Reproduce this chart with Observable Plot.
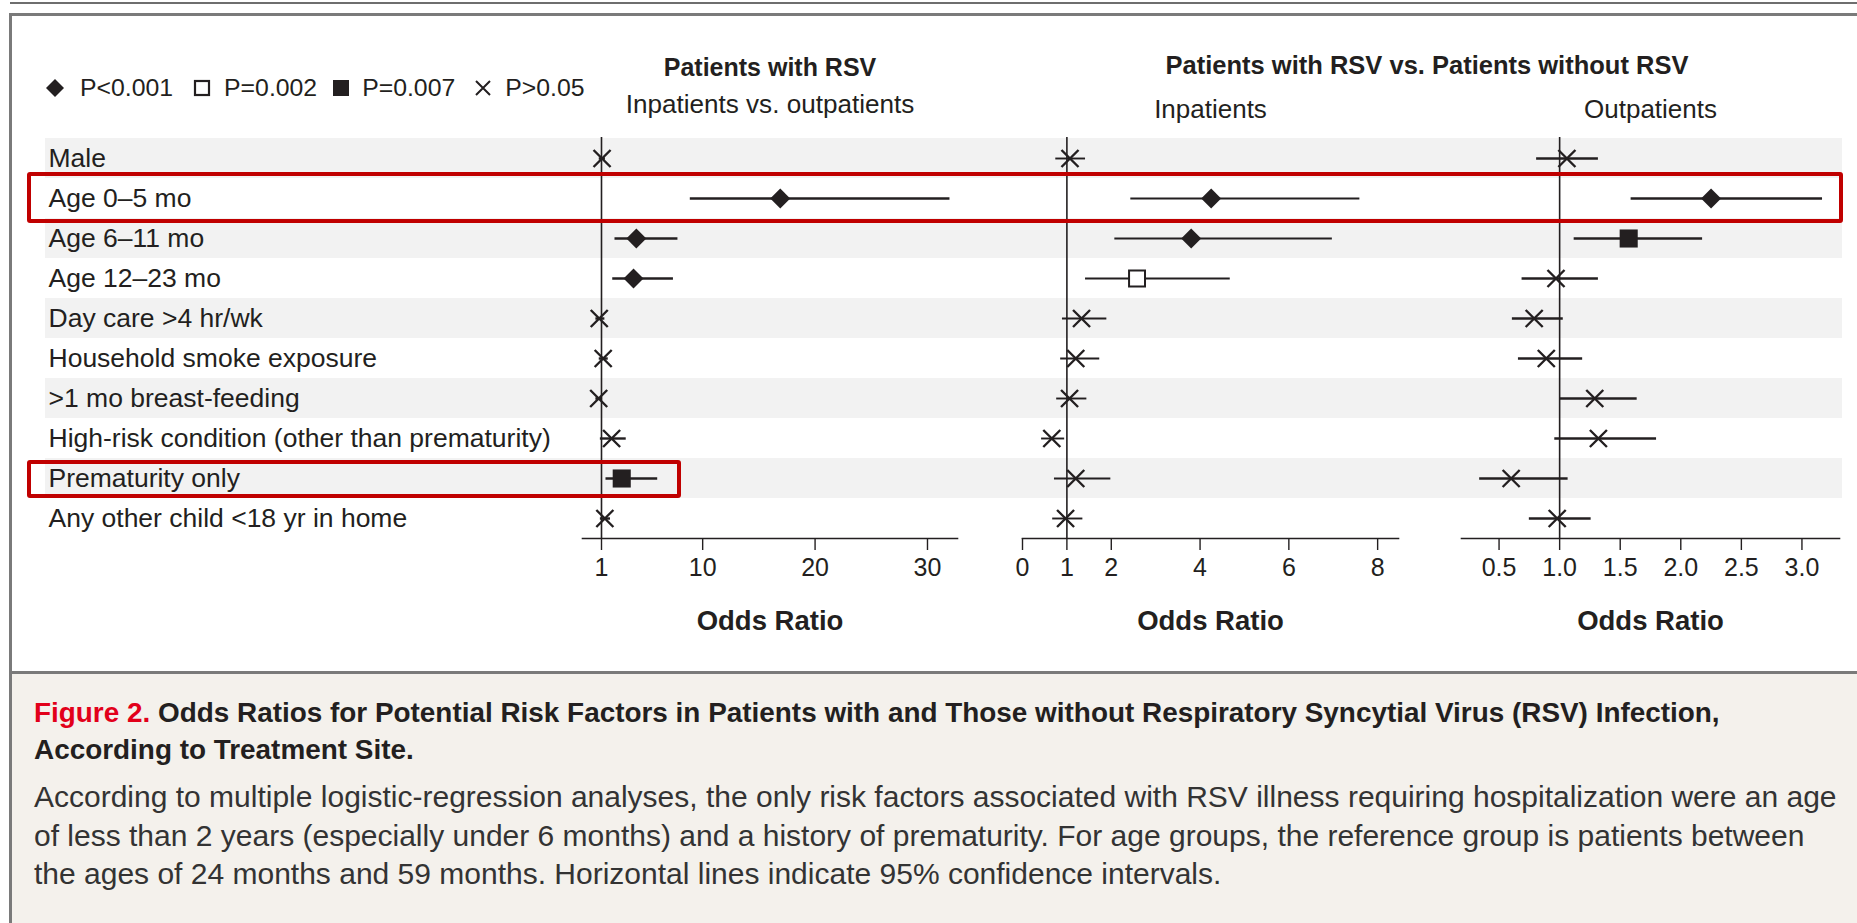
<!DOCTYPE html>
<html><head><meta charset="utf-8">
<script src="https://cdn.jsdelivr.net/npm/d3@7"></script>
<script src="https://cdn.jsdelivr.net/npm/@observablehq/plot@0.6"></script>
<style>
html,body{margin:0;padding:0;background:#fff;}
#page{position:relative;width:1857px;height:923px;overflow:hidden;font-family:"Liberation Sans",Arial,sans-serif;color:#231f20;}
.abs{position:absolute;}
.legend{position:absolute;left:45px;top:74px;height:28px;display:flex;align-items:center;font-size:24.8px;white-space:nowrap;}
.legend svg{display:block;flex:none;}
.cap{position:absolute;left:12px;top:671px;width:1845px;height:252px;background:#f4f1ec;border-top:3px solid #7a7a7a;}
.capline{position:absolute;left:22px;white-space:nowrap;}
.t{font-weight:bold;font-size:27.9px;line-height:37px;color:#231f20;}
.b{font-size:30px;line-height:38.5px;color:#333;}
.red{position:absolute;border:4.5px solid #c00000;border-radius:3px;box-sizing:border-box;}
</style></head>
<body><div id="page"></div>
<script>
// ---- data ----
const factors = ["Male","Age 0–5 mo","Age 6–11 mo","Age 12–23 mo","Day care >4 hr/wk","Household smoke exposure",">1 mo breast-feeding","High-risk condition (other than prematurity)","Prematurity only","Any other child <18 yr in home"];

// Patients with RSV: inpatients vs. outpatients
const or1  = [1.05, 16.9, 4.1, 3.85, 0.8, 1.15, 0.75, 1.9, 2.8, 1.3];
const lo1  = [0.8, 8.9, 2.2, 2.0, 0.5, 0.8, 0.5, 0.9, 1.4, 0.9];
const hi1  = [1.35, 32.0, 7.8, 7.4, 1.3, 1.6, 1.1, 3.2, 6.0, 1.8];
const sig1 = ["x","d","d","d","x","x","x","x","s","x"];

// RSV vs. no RSV: inpatients
const or2  = [1.07, 4.25, 3.8, 2.58, 1.33, 1.2, 1.06, 0.66, 1.2, 0.97];
const lo2  = [0.75, 2.44, 2.08, 1.42, 0.9, 0.86, 0.77, 0.43, 0.72, 0.68];
const hi2  = [1.42, 7.6, 6.98, 4.68, 1.9, 1.74, 1.45, 0.95, 1.99, 1.36];
const sig2 = ["x","d","d","o","x","x","x","x","x","x"];

// RSV vs. no RSV: outpatients
const or3  = [1.06, 2.25, 1.57, 0.97, 0.79, 0.89, 1.29, 1.32, 0.6, 0.98];
const lo3  = [0.81, 1.59, 1.12, 0.69, 0.61, 0.66, 1.0, 0.96, 0.34, 0.75];
const hi3  = [1.32, 3.17, 2.18, 1.32, 1.03, 1.19, 1.64, 1.80, 1.07, 1.26];
const sig3 = ["x","d","s","x","x","x","x","x","x","x"];

const ticks1 = [1, 10, 20, 30];
const ticks2 = [0, 1, 2, 4, 6, 8];
const ticks3 = [0.5, 1.0, 1.5, 2.0, 2.5, 3.0];

const legendLabels = ["P<0.001", "P=0.002", "P=0.007", "P>0.05"];
const headers = {main1: "Patients with RSV", sub1: "Inpatients vs. outpatients", main2: "Patients with RSV vs. Patients without RSV", sub2: "Inpatients", sub3: "Outpatients"};
const axisLabel = "Odds Ratio";

// ---- layout ----
const INK = "#231f20";
const W = 1857, H = 660, MT = 137, MB = 122;
const FONT = '"Liberation Sans", Arial, sans-serif';
const page = document.getElementById("page");
function add(el){ el.style.position = "absolute"; el.style.left = "0px"; el.style.top = "0px"; page.appendChild(el); return el; }
function div(cls, html, css){ const d = document.createElement("div"); if (cls) d.className = cls; d.innerHTML = html; if (css) d.style.cssText += css; page.appendChild(d); return d; }

// frame lines
div("abs", "", "left:10px;top:2px;width:1847px;height:2px;background:#6e6e6e;");
div("abs", "", "left:10px;top:13px;width:1847px;height:3px;background:#7a7a7a;");
div("abs", "", "left:9px;top:13px;width:3px;height:910px;background:#7a7a7a;");

// background: bands + row labels
add(Plot.plot({
  width: W, height: H, marginTop: MT, marginBottom: MB, marginLeft: 45, marginRight: 15,
  style: {fontFamily: FONT, color: INK, background: "transparent", overflow: "visible"},
  x: {domain: [0, 1], axis: null},
  y: {type: "band", domain: factors, padding: 0, axis: null},
  marks: [
    Plot.barX(factors.filter((d, i) => i % 2 === 0), {x1: 0, x2: 1, y: d => d, fill: "#f2f2f2"}),
    Plot.text(factors, {x: 0, y: d => d, text: d => d, textAnchor: "start", dx: 3, fontSize: 26.5, fill: INK})
  ]
}));

function panel(or, lo, hi, sig, cfg){
  const rows = factors.map((f, i) => ({factor: f, or: or[i], lo: lo[i], hi: hi[i], sig: sig[i]}));
  const marks = [
    Plot.frame({anchor: "bottom", stroke: INK, strokeWidth: 1.6}),
    Plot.axisX({ticks: cfg.ticks, tickFormat: cfg.fmt, tickSize: 12, tickPadding: 8, fontSize: 25, label: null, stroke: INK, strokeWidth: 1.4}),
    Plot.ruleX([1], {stroke: INK, strokeWidth: 1.6}),
    Plot.ruleY(rows, {y: "factor", x1: "lo", x2: "hi", stroke: INK, strokeWidth: cfg.ci}),
    Plot.dot(rows.filter(d => d.sig === "d"), {x: "or", y: "factor", symbol: "diamond2", r: 9, fill: INK, stroke: "none"}),
    Plot.dot(rows.filter(d => d.sig === "o"), {x: "or", y: "factor", symbol: "square", r: 9, fill: "white", stroke: INK, strokeWidth: 2}),
    Plot.dot(rows.filter(d => d.sig === "s"), {x: "or", y: "factor", symbol: "square", r: 10.2, fill: INK, stroke: "none"}),
    Plot.dot(rows.filter(d => d.sig === "x"), {x: "or", y: "factor", symbol: "times", r: 7.8, stroke: INK, strokeWidth: 2.4, fill: "none"}),
    Plot.text([axisLabel], {text: d => d, frameAnchor: "bottom", lineAnchor: "middle", dy: 83, fontWeight: "bold", fontSize: 27.5, fill: INK})
  ];
  for (const h of cfg.heads) marks.push(Plot.text([h.text], {text: d => d, frameAnchor: "top", lineAnchor: "middle", dy: h.dy, fontWeight: h.bold ? "bold" : "normal", fontSize: h.size, fill: INK}));
  return add(Plot.plot({
    width: W, height: H, marginTop: MT, marginBottom: MB, marginLeft: cfg.left, marginRight: W - cfg.right,
    style: {fontFamily: FONT, color: INK, background: "transparent", overflow: "visible"},
    x: {domain: cfg.domain},
    y: {type: "band", domain: factors, padding: 0, axis: null},
    marks
  }));
}

panel(or1, lo1, hi1, sig1, {left: 582, right: 957, domain: [-0.69, 32.67], ticks: ticks1, fmt: d3.format("d"), ci: 2.4,
  heads: [{text: headers.main1, dy: -70, bold: true, size: 25}, {text: headers.sub1, dy: -33, size: 26.1}]});
panel(or2, lo2, hi2, sig2, {left: 1022, right: 1398, domain: [0, 8.47], ticks: ticks2, fmt: d3.format("d"), ci: 1.9,
  heads: [{text: headers.sub2, dy: -28, size: 26}]});
panel(or3, lo3, hi3, sig3, {left: 1461, right: 1839, domain: [0.19, 3.31], ticks: ticks3, fmt: d3.format(".1f"), ci: 2.7,
  heads: [{text: headers.sub3, dy: -28, size: 26}]});

// wide header
div("abs", headers.main2, "left:1427px;top:" + (75 - 0.8465 * 25.5) + "px;transform:translateX(-50%);font-weight:bold;font-size:25.5px;line-height:25.5px;white-space:nowrap;");

// legend
const sym = {
  d: '<svg width="20" height="20" viewBox="-10 -10 20 20"><path d="M0,-9L9,0L0,9L-9,0Z" fill="' + INK + '"/></svg>',
  o: '<svg width="18" height="18" viewBox="-9 -9 18 18"><rect x="-7" y="-7" width="14" height="14" fill="white" stroke="' + INK + '" stroke-width="2.2"/></svg>',
  s: '<svg width="18" height="18" viewBox="-9 -9 18 18"><rect x="-8" y="-8" width="16" height="16" fill="' + INK + '"/></svg>',
  x: '<svg width="18" height="18" viewBox="-9 -9 18 18"><path d="M-7,-7L7,7M7,-7L-7,7" stroke="' + INK + '" stroke-width="2"/></svg>'
};
div("legend",
  sym.d + '<span style="margin-left:15px">' + legendLabels[0].replace("<", "&lt;") + '</span>' +
  '<span style="margin-left:20px"></span>' + sym.o + '<span style="margin-left:13px">' + legendLabels[1] + '</span>' +
  '<span style="margin-left:15px"></span>' + sym.s + '<span style="margin-left:12px">' + legendLabels[2] + '</span>' +
  '<span style="margin-left:19px"></span>' + sym.x + '<span style="margin-left:13px">' + legendLabels[3].replace(">", "&gt;") + '</span>');

// highlight boxes
div("red", "", "left:27px;top:172px;width:1816px;height:51px;");
div("red", "", "left:27px;top:460px;width:654px;height:38px;");

// caption
const cap = div("cap", "");
cap.innerHTML =
  '<div class="capline t" style="top:20px"><span style="color:#e2001a">Figure 2.</span> Odds Ratios for Potential Risk Factors in Patients with and Those without Respiratory Syncytial Virus (RSV) Infection,</div>' +
  '<div class="capline t" style="top:57px">According to Treatment Site.</div>' +
  '<div class="capline b" style="top:104px">According to multiple logistic-regression analyses, the only risk factors associated with RSV illness requiring hospitalization were an age</div>' +
  '<div class="capline b" style="top:142.5px">of less than 2 years (especially under 6 months) and a history of prematurity. For age groups, the reference group is patients between</div>' +
  '<div class="capline b" style="top:181px">the ages of 24 months and 59 months. Horizontal lines indicate 95% confidence intervals.</div>';
</script>
</body></html>
